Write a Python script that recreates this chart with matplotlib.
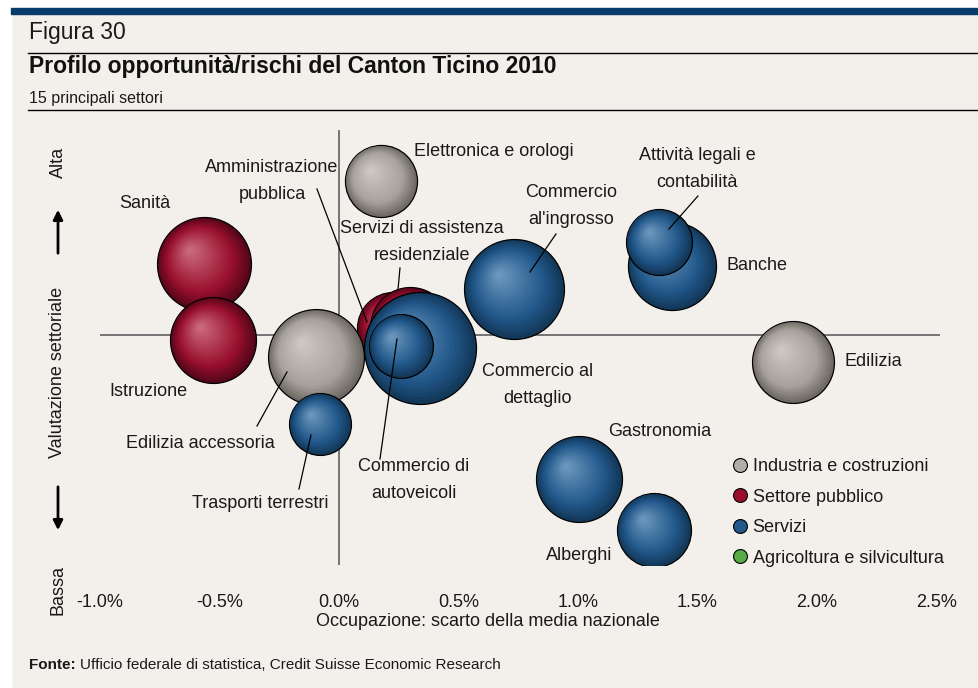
import numpy as np
import matplotlib
matplotlib.use('Agg')
import matplotlib.pyplot as plt
from matplotlib.colors import to_rgb
from matplotlib.lines import Line2D
from matplotlib.patches import Rectangle, FancyArrowPatch
from matplotlib.transforms import offset_copy

plt.rcParams['font.family'] = ['Liberation Sans', 'DejaVu Sans']

# dati (ordine = ordine di disegno)
settori = ['Sanità', 'Istruzione', 'Elettronica e orologi', 'Amministrazione pubblica',
           'Servizi di assistenza residenziale', 'Edilizia accessoria', 'Trasporti terrestri',
           'Commercio al dettaglio', 'Commercio di autoveicoli', "Commercio all'ingrosso",
           'Banche', 'Attività legali e contabilità', 'Edilizia', 'Gastronomia', 'Alberghi']
occupazione = [-0.565, -0.527, 0.176, 0.226, 0.297, -0.096, -0.079,
               0.339, 0.259, 0.732, 1.393, 1.339, 1.900, 1.004, 1.318]
valutazione = [0.71, -0.05, 1.54, 0.07, 0.08, -0.22, -0.89,
               -0.13, -0.11, 0.46, 0.69, 0.93, -0.27, -1.44, -1.95]
peso = [22.1, 18.5, 13.0, 13.0, 16.0, 23.0, 9.6,
        31.4, 10.2, 25.0, 19.4, 10.9, 16.8, 18.5, 13.7]
gruppo = ['pub', 'pub', 'ind', 'pub', 'pub', 'ind', 'serv',
          'serv', 'serv', 'serv', 'serv', 'serv', 'ind', 'serv', 'serv']

legenda = ['Industria e costruzioni', 'Settore pubblico', 'Servizi', 'Agricoltura e silvicultura']
xticks = [-1.0, -0.5, 0.0, 0.5, 1.0, 1.5, 2.0, 2.5]

# colori: bordo scuro, tono medio, riflesso
colori = {
    'ind': ('#6f6964', '#a7a19b', '#cdc8c3'),
    'pub': ('#55061a', '#980f2d', '#c9687b'),
    'serv': ('#133858', '#21578a', '#6a96bd'),
}
col_leg = ['#b3ada7', '#9a0f2e', '#22588a', '#5aab46']

W, H = 979, 688
fig = plt.figure(figsize=(W / 100, H / 100), dpi=100, facecolor='#f3f0ec')
rend = fig.canvas.get_renderer()

def fx(px):
    return px / W

def fy(py):
    return 1 - py / H

# cornice
fig.add_artist(Rectangle((0, 0), fx(11), 1, transform=fig.transFigure, color='white', zorder=0))
fig.add_artist(Rectangle((0, fy(8)), 1, 8 / H, transform=fig.transFigure, color='white', zorder=0))
fig.add_artist(Rectangle((fx(11), fy(14)), 1, 6 / H, transform=fig.transFigure, color='#073b6b', zorder=1))
for yy in [53, 110]:
    fig.add_artist(Line2D([fx(28), 1], [fy(yy), fy(yy)], transform=fig.transFigure, color='black', lw=1))

fig.text(fx(29), fy(32), 'Figura 30', fontsize=16.5, va='center', color='#1a1a1a')
fig.text(fx(29), fy(67), 'Profilo opportunità/rischi del Canton Ticino 2010', fontsize=16.5,
         fontweight='bold', va='center', color='#111111')
fig.text(fx(29), fy(99), '15 principali settori', fontsize=11.5, va='center', color='#1a1a1a')
fonte = fig.text(fx(29), fy(665), 'Fonte:', fontsize=11, fontweight='bold', va='center', color='#1a1a1a')
wb = fonte.get_window_extent(rend).width
fig.text(fx(29 + wb + 4), fy(665), 'Ufficio federale di statistica, Credit Suisse Economic Research',
         fontsize=11, va='center', color='#1a1a1a')

# assi
ax = fig.add_axes([fx(100), fy(565), (940 - 100) / W, (565 - 130) / H])
ax.set_xlim(-1.0, 2.515)
ax.set_ylim(-2.30, 2.05)
ax.patch.set_alpha(0)
for s in ax.spines.values():
    s.set_visible(False)
ax.axhline(0, color='#6b6b6b', lw=1.3, zorder=1)
ax.axvline(0, color='#6b6b6b', lw=1.3, zorder=1)
ax.set_xticks(xticks)
ax.set_xticklabels(['%.1f%%' % v for v in xticks])
ax.set_yticks([])
ax.tick_params(axis='x', length=0, pad=21, labelsize=13, labelcolor='#1a1a1a')

fig.text(fx(488), fy(621), 'Occupazione: scarto della media nazionale', fontsize=13,
         ha='center', va='center', color='#1a1a1a')
fig.text(fx(58), fy(162), 'Alta', rotation=90, fontsize=13, ha='center', va='center', color='#1a1a1a')
fig.text(fx(58), fy(372), 'Valutazione settoriale', rotation=90, fontsize=13, ha='center', va='center',
         color='#1a1a1a')
fig.text(fx(58), fy(590), 'Bassa', rotation=90, fontsize=13, ha='center', va='center', color='#1a1a1a')
fig.add_artist(FancyArrowPatch((fx(58), fy(256)), (fx(58), fy(207)), transform=fig.transFigure,
                               arrowstyle='-|>', mutation_scale=14, lw=2, color='black'))
fig.add_artist(FancyArrowPatch((fx(58), fy(484)), (fx(58), fy(533)), transform=fig.transFigure,
                               arrowstyle='-|>', mutation_scale=14, lw=2, color='black'))


def tono(g, t):
    bordo, medio, luce = [np.array(to_rgb(c)) for c in colori[g]]
    if t < 0.3:
        return bordo + (medio - bordo) * (t / 0.3)
    return medio + (luce - medio) * ((t - 0.3) / 0.7)


# bolle sfumate
n = 20
for j in range(len(settori)):
    s = 207 * peso[j]
    r = np.sqrt(s) / 2
    for i in range(n):
        t = i / (n - 1)
        off = 0.29 * r * t
        tr = offset_copy(ax.transData, fig=fig, x=-off, y=off, units='points')
        d = 2 * r * (1 - 0.93 * t)
        ax.scatter([occupazione[j]], [valutazione[j]], s=d ** 2, color=tono(gruppo[j], t),
                   transform=tr, zorder=3 + j + i * 0.01,
                   edgecolors='black' if i == 0 else 'none', linewidths=0.9 if i == 0 else 0)


def px2d(px, py):
    return (px - 339) / 239, (335 - py) / 100


# etichette: testo, posizione, allineamento, linea guida
etichette = [
    ('Elettronica e orologi', (414, 151), 'left', None),
    ('Amministrazione\npubblica', (272, 181), 'center', ((317, 189), (367, 322))),
    ('Sanità', (145, 204), 'center', None),
    ('Servizi di assistenza\nresidenziale', (422, 242), 'center', ((400, 268), (398, 290))),
    ("Commercio\nal'ingrosso", (571, 206), 'center', ((556, 234), (530, 272))),
    ('Attività legali e\ncontabilità', (697, 169), 'center', ((698, 196), (669, 229))),
    ('Banche', (727, 265), 'left', None),
    ('Edilizia', (845, 362), 'left', None),
    ('Commercio al\ndettaglio', (538, 385), 'center', None),
    ('Istruzione', (148, 392), 'center', None),
    ('Edilizia accessoria', (200, 443), 'center', ((287, 372), (257, 426))),
    ('Trasporti terrestri', (260, 503), 'center', ((311, 435), (299, 489))),
    ('Commercio di\nautoveicoli', (414, 480), 'center', ((397, 339), (380, 459))),
    ('Gastronomia', (660, 431), 'center', None),
    ('Alberghi', (579, 555), 'center', None),
]
for testo, pos, ha, guida in etichette:
    x, y = px2d(*pos)
    ax.text(x, y, testo, ha=ha, va='center', fontsize=13, linespacing=1.7,
            color='#1a1a1a', zorder=40, clip_on=False)
    if guida:
        (x0, y0), (x1, y1) = px2d(*guida[0]), px2d(*guida[1])
        ax.plot([x0, x1], [y0, y1], color='black', lw=0.9, zorder=40, clip_on=False)

maniglie = [Line2D([], [], marker='o', ls='', markersize=10, markerfacecolor=c,
                   markeredgecolor='black', markeredgewidth=0.8) for c in col_leg]
fig.legend(maniglie, legenda, loc='upper left', bbox_to_anchor=(fx(731), fy(458)),
           frameon=False, fontsize=13, handletextpad=0.2, handlelength=1.0,
           labelspacing=0.75, borderpad=0, borderaxespad=0, labelcolor='#1a1a1a')

fig.savefig('out.png', dpi=100, facecolor=fig.get_facecolor())
